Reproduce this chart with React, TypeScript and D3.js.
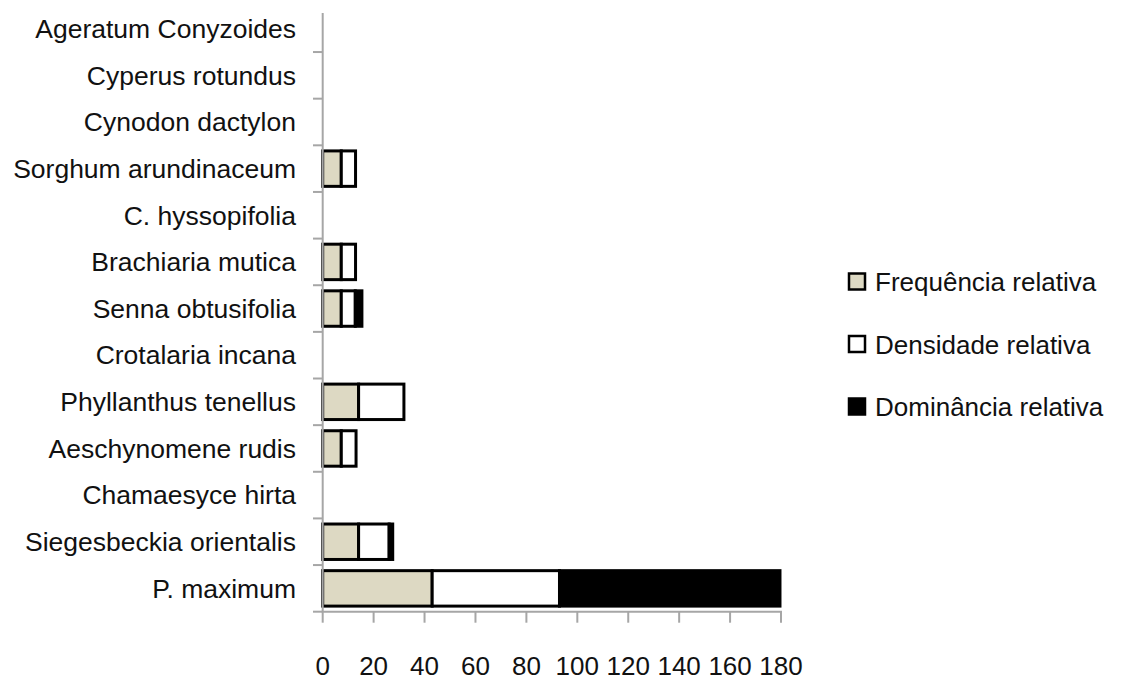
import React from "react";
import * as d3 from "d3";

const categories = [
  "Ageratum Conyzoides",
  "Cyperus rotundus",
  "Cynodon dactylon",
  "Sorghum arundinaceum",
  "C. hyssopifolia",
  "Brachiaria mutica",
  "Senna obtusifolia",
  "Crotalaria incana",
  "Phyllanthus tenellus",
  "Aeschynomene rudis",
  "Chamaesyce hirta",
  "Siegesbeckia orientalis",
  "P. maximum",
];
const frequencia = [0, 0, 0, 7.3, 0, 7.3, 7.3, 0, 14.1, 7.3, 0, 14.1, 43.0];
const densidade = [0, 0, 0, 5.6, 0, 5.6, 5.5, 0, 17.8, 5.8, 0, 12.0, 50.0];
const dominancia = [0, 0, 0, 0, 0, 0, 2.6, 0, 0, 0, 0, 1.4, 86.6];
const seriesNames = ["Frequência relativa", "Densidade relativa", "Dominância relativa"];
const seriesColors = ["#DDD9C3", "#FFFFFF", "#000000"];
const xTicks = [0, 20, 40, 60, 80, 100, 120, 140, 160, 180];

const W = 1123;
const H = 681;
const FONT = "'Liberation Sans', Arial, sans-serif";
const AXIS = "#A6A6A6";

export default function App() {
  const x = d3.scaleLinear().domain([0, 180]).range([322.7, 781]);
  const y = d3
    .scaleBand<string>()
    .domain(categories)
    .range([5.4, 611.7])
    .paddingInner(0.24)
    .paddingOuter(0.12);
  const step = y.step();

  const rows = categories.map((c, i) => ({
    c,
    vals: [frequencia[i], densidade[i], dominancia[i]],
  }));
  const stack = d3
    .stack<any>()
    .keys(["0", "1", "2"])
    .value((d: any, k: string) => d.vals[+k]);
  const stacked = stack(rows as any);

  const y0 = 611.7;
  const boundaries = d3.range(1, categories.length + 1).map((i) => y0 - (categories.length - i) * step);

  return (
    <div style={{ position: "absolute", left: 0, top: 0, width: W, height: H }}>
      <svg width={W} height={H} style={{ display: "block", background: "#fff" }}>
        {/* bars */}
        {stacked.map((s, si) => (
          <g key={si}>
            {s.map((d: any, i: number) => {
              const v = d[1] - d[0];
              if (v <= 0) return null;
              return (
                <rect
                  key={i}
                  x={x(d[0])}
                  y={y(categories[i])}
                  width={x(d[1]) - x(d[0])}
                  height={y.bandwidth()}
                  fill={seriesColors[si]}
                  stroke="#000"
                  strokeWidth={3}
                />
              );
            })}
          </g>
        ))}
        {/* y axis */}
        <line x1={x(0)} x2={x(0)} y1={13} y2={y0} stroke={AXIS} strokeWidth={2} />
        {boundaries.map((b, i) => (
          <line key={i} x1={313} x2={x(0)} y1={b} y2={b} stroke={AXIS} strokeWidth={2} />
        ))}
        {categories.map((c) => (
          <text
            key={c}
            x={296}
            y={(y(c) as number) + y.bandwidth() / 2}
            dy="0.35em"
            textAnchor="end"
            fontFamily={FONT}
            fontSize={26.5}
            fill="#111"
          >
            {c}
          </text>
        ))}
        {/* x axis */}
        <line x1={x(0) - 1} x2={x(180) + 1} y1={y0} y2={y0} stroke={AXIS} strokeWidth={2} />
        {xTicks.map((t) => (
          <g key={t}>
            <line x1={x(t)} x2={x(t)} y1={y0} y2={y0 + 11} stroke={AXIS} strokeWidth={2} />
            <text
              x={x(t)}
              y={675}
              textAnchor="middle"
              fontFamily={FONT}
              fontSize={26}
              fill="#111"
            >
              {t}
            </text>
          </g>
        ))}
        {/* legend */}
        {seriesNames.map((n, i) => {
          const cy = 282 + i * 62.5;
          return (
            <g key={n}>
              <rect
                x={849}
                y={cy - 8.5}
                width={16}
                height={16}
                fill={seriesColors[i]}
                stroke="#000"
                strokeWidth={2.5}
              />
              <text x={875} y={cy} dy="0.35em" fontFamily={FONT} fontSize={26} fill="#111">
                {n}
              </text>
            </g>
          );
        })}
      </svg>
    </div>
  );
}
